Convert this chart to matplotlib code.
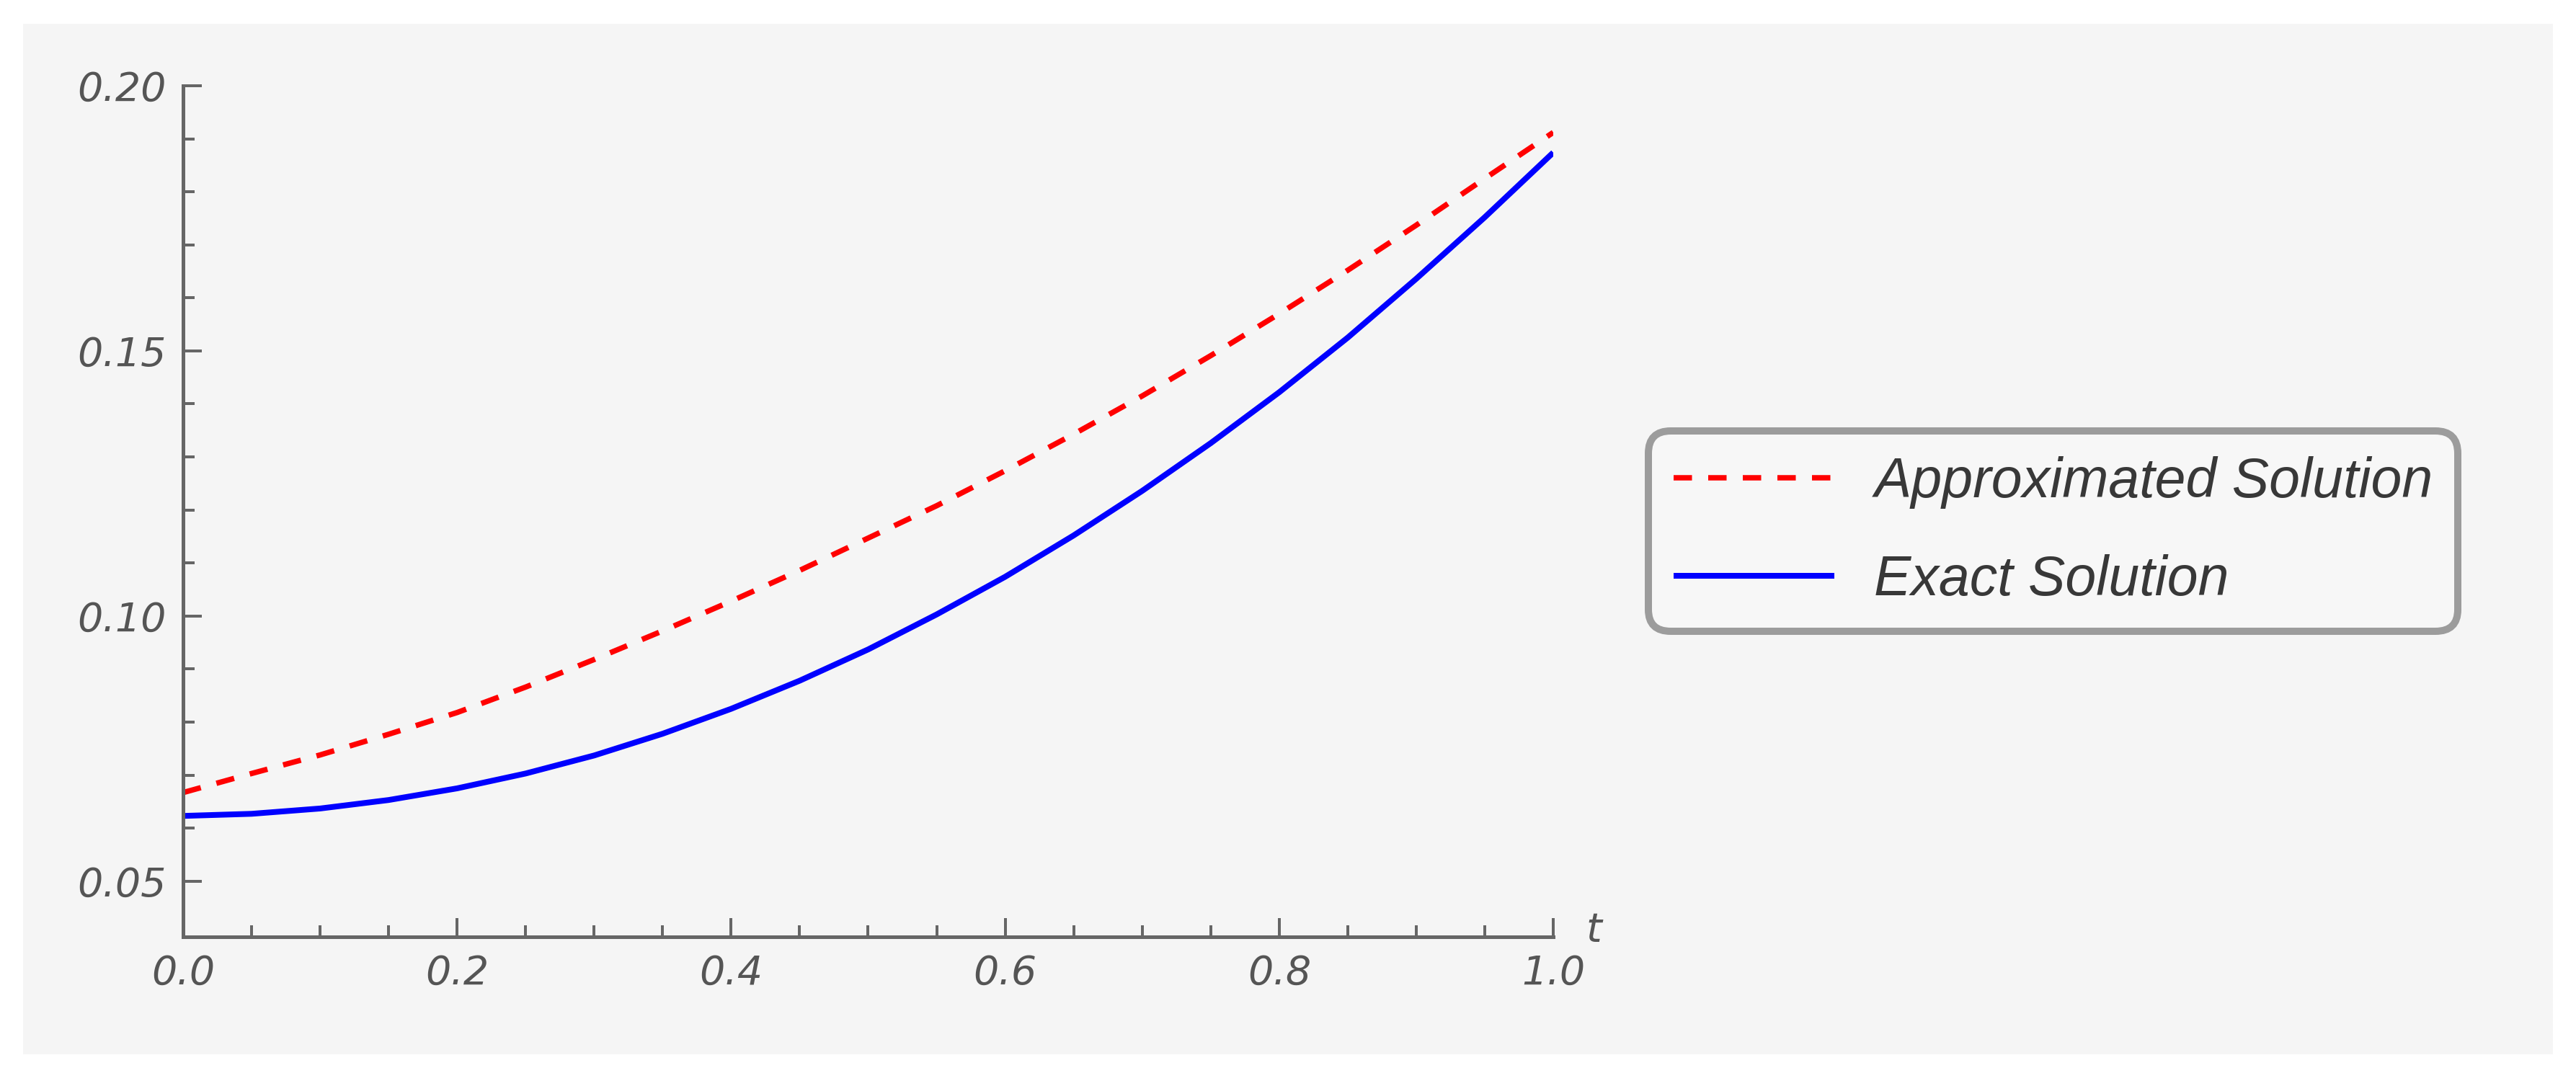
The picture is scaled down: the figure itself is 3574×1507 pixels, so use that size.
import matplotlib
matplotlib.use("Agg")
import matplotlib.pyplot as plt
from matplotlib.patches import Rectangle
from matplotlib.ticker import MultipleLocator, FixedLocator, FormatStrFormatter
from matplotlib.transforms import blended_transform_factory

# ---- data ----
t = [0.00, 0.05, 0.10, 0.15, 0.20, 0.25, 0.30, 0.35, 0.40, 0.45, 0.50,
     0.55, 0.60, 0.65, 0.70, 0.75, 0.80, 0.85, 0.90, 0.95, 1.00]
approx = [0.0667, 0.0703, 0.0738, 0.0777, 0.0818, 0.0866, 0.0918, 0.0972,
          0.1028, 0.1086, 0.1147, 0.1208, 0.1274, 0.1343, 0.1415, 0.1491,
          0.1570, 0.1652, 0.1737, 0.1825, 0.1912]
exact = [0.0623, 0.0627, 0.0637, 0.0653, 0.0675, 0.0703, 0.0737, 0.0778,
         0.0825, 0.0878, 0.0937, 0.1003, 0.1074, 0.1152, 0.1236, 0.1326,
         0.1422, 0.1525, 0.1636, 0.1752, 0.1874]
series_labels = ["Approximated Solution", "Exact Solution"]
x_ticks = [0.0, 0.2, 0.4, 0.6, 0.8, 1.0]
y_ticks = [0.05, 0.10, 0.15, 0.20]
y_minor_ticks = [0.06, 0.07, 0.08, 0.09, 0.11, 0.12, 0.13, 0.14,
                 0.16, 0.17, 0.18, 0.19]
x_label = "t"

# ---- figure ----
W, H, DPI = 3574, 1507, 100
PX = 72.0 / DPI  # points per pixel

plt.rcParams["font.family"] = ["DejaVu Sans"]
plt.rcParams["font.style"] = "italic"

fig = plt.figure(figsize=(W / DPI, H / DPI), dpi=DPI, facecolor="white")
fig.add_artist(Rectangle((32 / W, 1 - 1463 / H), (3542 - 32) / W, (1463 - 33) / H,
                         transform=fig.transFigure, facecolor="#f5f5f5",
                         edgecolor="none", zorder=-10))

ax = fig.add_axes([254 / W, 1 - 1300 / H, 1901 / W, 1181 / H])
ax.set_facecolor("none")

ax.plot(t, approx, color="#ff0000", lw=7.5 * PX, dashes=(3.4, 3.0),
        label=series_labels[0])
ax.plot(t, exact, color="#0000ff", lw=8 * PX, solid_capstyle="butt",
        solid_joinstyle="round", label=series_labels[1])

ax.set_xlim(0, 1.0)
ax.set_ylim(0.0395, 0.20)

for s in ("top", "right"):
    ax.spines[s].set_visible(False)
for s in ("left", "bottom"):
    ax.spines[s].set_color("#666666")
    ax.spines[s].set_linewidth(5 * PX)

ax.xaxis.set_major_locator(FixedLocator(x_ticks))
ax.yaxis.set_major_locator(FixedLocator(y_ticks))
ax.xaxis.set_minor_locator(MultipleLocator(0.05))
ax.yaxis.set_minor_locator(FixedLocator(y_minor_ticks))
ax.xaxis.set_major_formatter(FormatStrFormatter("%.1f"))
ax.yaxis.set_major_formatter(FormatStrFormatter("%.2f"))

ax.tick_params(which="both", direction="in", color="#666666", width=4 * PX)
ax.tick_params(which="major", length=26 * PX, labelsize=40, labelcolor="#555555", pad=17)
ax.tick_params(which="minor", length=16 * PX)

tr = blended_transform_factory(ax.transData, ax.transAxes)
ax.text(1.0295, -0.005, x_label, transform=tr, ha="center", va="baseline",
        fontsize=40, color="#555555", fontstyle="italic")

leg = ax.legend(loc="upper left", bbox_to_anchor=(2287 / W, 1 - 598 / H),
                bbox_transform=fig.transFigure, borderaxespad=0,
                prop=dict(family="Liberation Sans", style="italic", size=77 * PX),
                handlelength=2.9, handletextpad=0.72, labelspacing=0.82,
                borderpad=0.45, frameon=True, fancybox=True, framealpha=1,
                facecolor="#f7f7f7", edgecolor="#9c9c9c")
frame = leg.get_frame()
frame.set_linewidth(10 * PX)
frame.set_boxstyle("round,pad=0,rounding_size=0.4")
for txt in leg.get_texts():
    txt.set_color("#383838")

fig.savefig("out.png", dpi=DPI, facecolor="white")
